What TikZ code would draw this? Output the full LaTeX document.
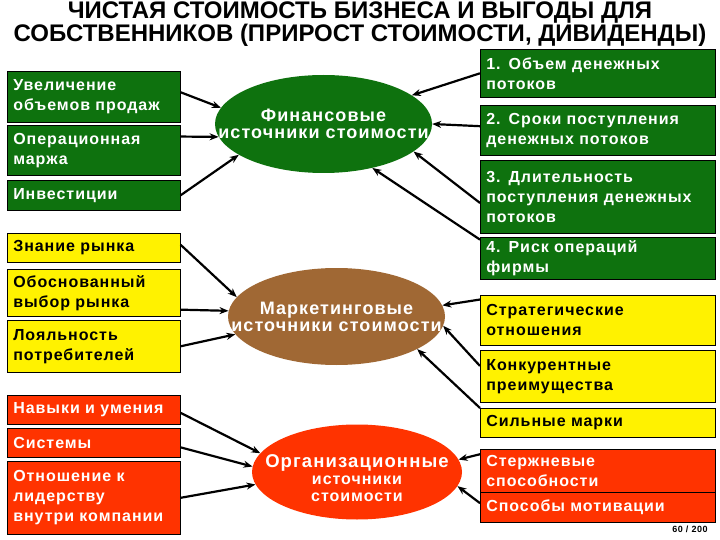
\documentclass[tikz,border=0pt]{standalone}
\usepackage{fontspec}
\setmainfont{Liberation Sans}[LetterSpace=6]
\newfontfamily\titlefont{Liberation Sans}
\usetikzlibrary{shapes.geometric,arrows.meta}
\definecolor{boxgreen}{RGB}{14,114,14}
\definecolor{boxred}{RGB}{255,51,0}
\definecolor{boxbrown}{RGB}{160,104,52}

\begin{document}
\begin{tikzpicture}[x=1pt,y=-1pt,
    box/.style={draw=black,line width=0.6pt,anchor=north west,align=left,
      inner xsep=6pt,inner ysep=2pt,font=\fontsize{16}{20}\selectfont\bfseries},
    leftbox/.style={box,text width=161pt},
    rightbox/.style={box,text width=223pt},
    gfill/.style={fill=boxgreen,text=white},
    yfill/.style={fill=yellow,text=black},
    rfill/.style={fill=boxred,text=white},
    source/.style={ellipse,inner sep=0pt},
    srctext/.style={text=white,align=center,font=\fontsize{18}{17}\selectfont\bfseries},
    arr/.style={-{Stealth[length=9pt,width=7pt]},line width=2.2pt}]
  \useasboundingbox (0,0) rectangle (720,540);
  \fill[white] (0,0) rectangle (720,540);

  \node[font=\fontsize{24}{19}\titlefont\bfseries,align=center] (title) at (360,24)
    {ЧИСТАЯ СТОИМОСТЬ БИЗНЕСА И ВЫГОДЫ ДЛЯ\\СОБСТВЕННИКОВ (ПРИРОСТ СТОИМОСТИ, ДИВИДЕНДЫ)};

  \node[leftbox,gfill,minimum height=51pt] (sales) at (7,71) {Увеличение\\объемов продаж};
  \node[leftbox,gfill,minimum height=50pt] (margin) at (7,125) {Операционная\\маржа};
  \node[leftbox,gfill,minimum height=30pt] (invest) at (7,180) {Инвестиции};
  \node[leftbox,yfill,minimum height=29pt] (market) at (7,233) {Знание рынка};
  \node[leftbox,yfill,minimum height=47pt] (choice) at (7,269) {Обоснованный\\выбор рынка};
  \node[leftbox,yfill,minimum height=52pt] (loyal) at (7,320) {Лояльность\\потребителей};
  \node[leftbox,rfill,minimum height=29pt] (skills) at (7,395) {Навыки и умения};
  \node[leftbox,rfill,minimum height=29pt] (systems) at (7,428) {Системы};
  \node[leftbox,rfill,minimum height=73pt] (leader) at (7,461) {Отношение к\\лидерству\\внутри компании};

  \node[rightbox,gfill,minimum height=48pt] (volume) at (480,49) {1. Объем денежных\\потоков};
  \node[rightbox,gfill,minimum height=50pt] (timing) at (480,105) {2. Сроки поступления\\денежных потоков};
  \node[rightbox,gfill,minimum height=73pt] (duration) at (480,160) {3. Длительность\\поступления денежных\\потоков};
  \node[rightbox,gfill,minimum height=42pt] (risk) at (480,237) {4. Риск операций\\фирмы};
  \node[rightbox,yfill,minimum height=50pt] (strategic) at (480,295) {Стратегические\\отношения};
  \node[rightbox,yfill,minimum height=52pt] (advantage) at (480,350) {Конкурентные\\преимущества};
  \node[rightbox,yfill,minimum height=29pt] (brands) at (480,408) {Сильные марки};
  \node[rightbox,rfill,minimum height=43pt] (core) at (480,449) {Стержневые\\способности};
  \node[rightbox,rfill,minimum height=30pt] (motive) at (480,492) {Способы мотивации};

  \node[source,fill=boxgreen,minimum width=217pt,minimum height=98pt,
    label={[srctext]center:Финансовые\\источники стоимости}] (fin) at (323.5,124) {};
  \node[source,fill=boxbrown,minimum width=217pt,minimum height=97pt,
    label={[srctext]center:Маркетинговые\\источники стоимости}] (mkt) at (336.5,316.5) {};
  \node[source,fill=boxred,minimum width=210pt,minimum height=95pt,
    label={[srctext,font=\fontsize{16}{17}\selectfont\bfseries,yshift=-6pt]center:{\fontsize{18.5}{20}\selectfont Организационные}\\источники\\стоимости}] (org) at (357,472) {};

  \node[font=\fontsize{9}{9}\selectfont\bfseries] (page) at (690,529) {60 / 200};

  \draw[arr] (sales.3) -- (fin.171);
  \draw[arr] (margin.9) -- (fin.187);
  \draw[arr] (invest.east) -- (fin.200);
  \draw[arr] (volume.west) -- (fin.18);
  \draw[arr] (timing.178) -- (fin.0);
  \draw[arr] (duration.183) -- (fin.-17);
  \draw[arr] (risk.171) -- (fin.-42);

  \draw[arr] (market.2) -- (mkt.169);
  \draw[arr] (choice.-11) -- (mkt.177);
  \draw[arr] (loyal.east) -- (mkt.190);
  \draw[arr] (strategic.170) -- (mkt.6);
  \draw[arr] (advantage.175) -- (mkt.-5);
  \draw[arr] (brands.north west) -- (mkt.-22);

  \draw[arr] (skills.-2) -- (org.169);
  \draw[arr] (systems.-3) -- (org.177);
  \draw[arr] (leader.east) -- (org.187);
  \draw[arr] (core.172) -- (org.7);
  \draw[arr] (motive.178) -- (org.-8);
\end{tikzpicture}
\end{document}
